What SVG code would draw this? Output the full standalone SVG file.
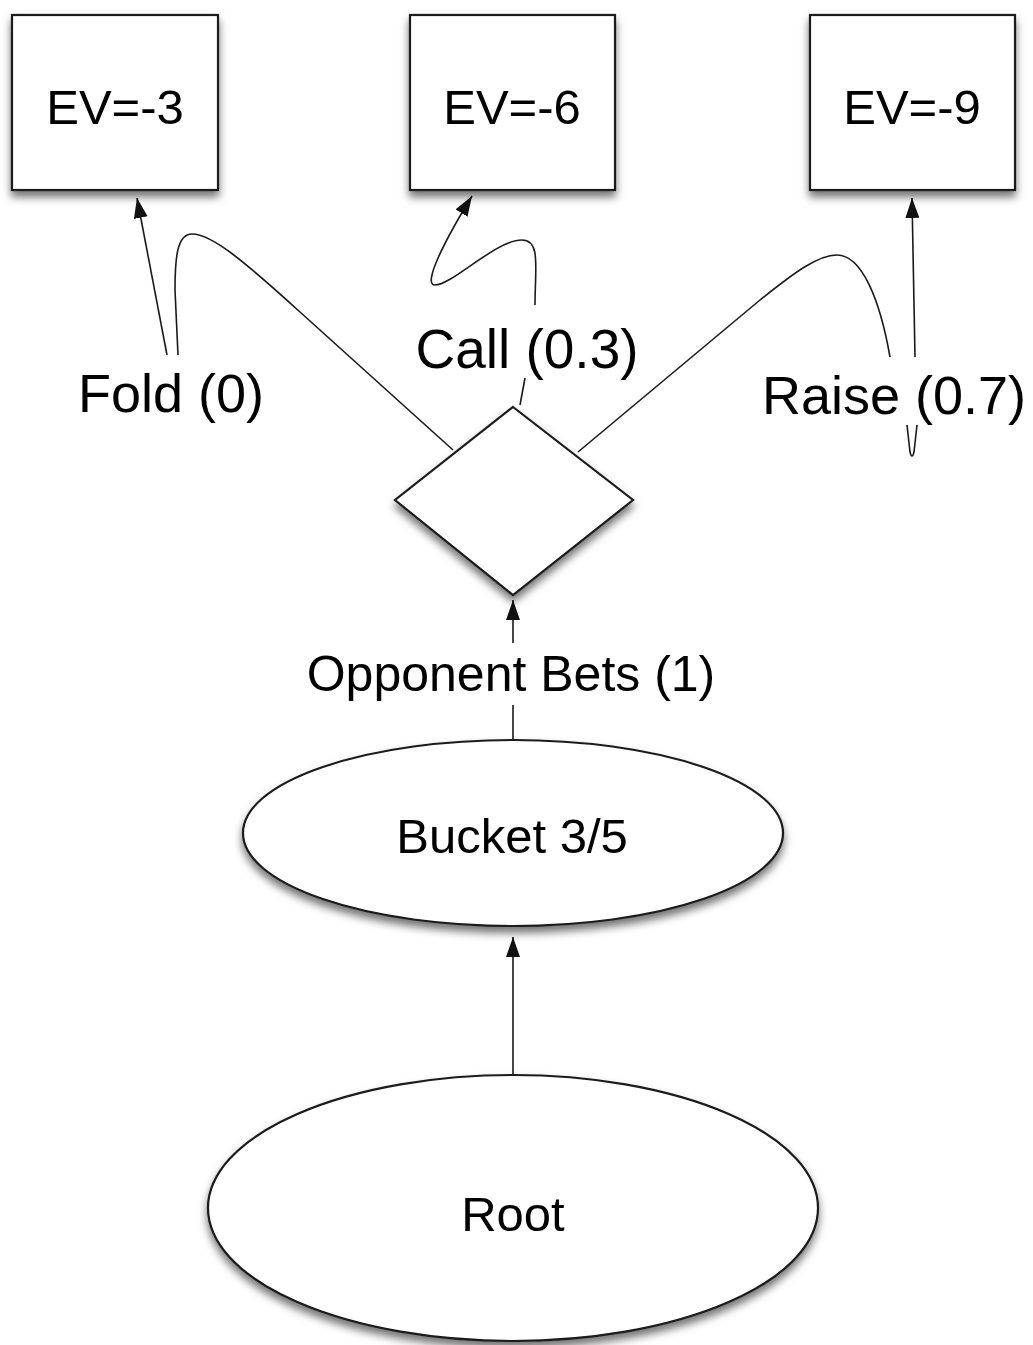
<svg xmlns="http://www.w3.org/2000/svg" width="1033" height="1345" viewBox="0 0 1033 1345">
<defs>
<filter id="sh" x="-20%" y="-20%" width="140%" height="150%">
<feDropShadow dx="0" dy="6" stdDeviation="4" flood-color="#000" flood-opacity="0.55"/>
</filter>
<marker id="ar" markerUnits="userSpaceOnUse" markerWidth="22" markerHeight="16" refX="20" refY="7" orient="auto">
<path d="M0,0 L20,7 L0,14 z" fill="#111"/>
</marker>
</defs>
<style>
.node{fill:#fff;stroke:#1a1a1a;stroke-width:2.2;filter:url(#sh)}
.edge{fill:none;stroke:#1a1a1a;stroke-width:1.6}
.nt{font-family:"Liberation Sans",Arial,sans-serif;font-size:49px;fill:#000;text-anchor:middle}
.et{font-family:"Liberation Sans",Arial,sans-serif;font-size:54px;fill:#000;text-anchor:middle}
</style>
<rect width="1033" height="1345" fill="#fff"/>
<g id="connectors">
<path class="edge" d="M513 1075 L513 937" marker-end="url(#ar)"/>
<path class="edge" d="M513 740 L513 705"/>
<path class="edge" d="M513 643 L513 600" marker-end="url(#ar)"/>
<path class="edge" d="M453 450 L300 312 C245 262 212 234 192 234 C177 234 175 258 175 290 L178 355"/>
<path class="edge" d="M167 355 L137 198" marker-end="url(#ar)"/>
<path class="edge" d="M520 405 L525 378"/>
<path class="edge" d="M535 305 C535 268 541 240 522 240 C496 240 452 285 435 285 C422 285 445 240 472 196" marker-end="url(#ar)"/>
<path class="edge" d="M578 452 L760 300 C795 272 818 255 837 255 C862 255 880 300 890 357"/>
<path class="edge" d="M907 425 L910 452 Q912 460 914 452 L917 425"/>
<path class="edge" d="M915 357 L912 198" marker-end="url(#ar)"/>
</g>
<g id="ev3"><rect class="node" x="12" y="15" width="206" height="175"/><text class="nt" x="115" y="124">EV=-3</text></g>
<g id="ev6"><rect class="node" x="410" y="15" width="205" height="175"/><text class="nt" x="512" y="124">EV=-6</text></g>
<g id="ev9"><rect class="node" x="810" y="15" width="205" height="175"/><text class="nt" x="912" y="124">EV=-9</text></g>
<g id="decision"><polygon class="node" points="513,407 633,500 513,595 395,500"/></g>
<g id="bucket"><ellipse class="node" cx="513" cy="833" rx="270" ry="93"/><text class="nt" x="512" y="853">Bucket 3/5</text></g>
<g id="root"><ellipse class="node" cx="513" cy="1208" rx="305" ry="133"/><text class="nt" x="513" y="1231">Root</text></g>
<g id="labels">
<text class="et" x="171" y="412">Fold (0)</text>
<text class="et" x="527" y="368" style="font-size:55px">Call (0.3)</text>
<text class="et" x="894" y="414">Raise (0.7)</text>
<text class="et" x="511" y="691" style="font-size:50px">Opponent Bets (1)</text>
</g>
</svg>
